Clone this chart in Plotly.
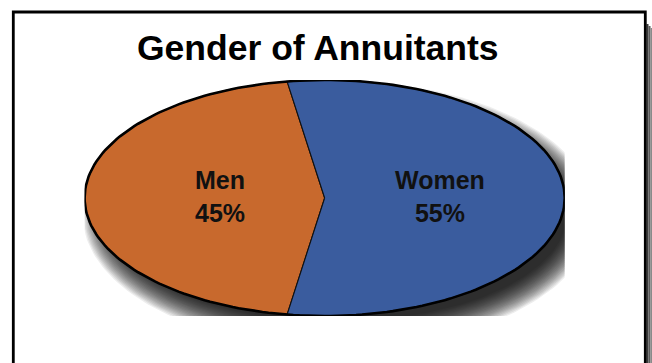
import numpy as np
import plotly.graph_objects as go

# Data
categories = ["Men", "Women"]
shares = [45, 55]
colors = ["#C8692D", "#3A5C9E"]
title_text = "Gender of Annuitants"

W, H = 652, 363
FONT = "Liberation Sans"

# Pixel box of the stretched pie (left, right, top, bottom)
PX_L, PX_R, PX_T, PX_B = 84.6, 564.7, 80.0, 316.0
ax_half_w = (PX_R - PX_L) / 2
ax_half_h = (PX_B - PX_T) / 2

fig = go.Figure()

# Soft drop shadow: stacked translucent ellipses, offset down-right
t = np.linspace(0, 2 * np.pi, 241)
shadow_dx, shadow_dy = 14.0, 17.0  # pixels
for r in np.linspace(16, -12, 22):
    sx = (ax_half_w + r) / ax_half_w
    sy = (ax_half_h + r) / ax_half_h
    fig.add_trace(go.Scatter(
        x=sx * np.cos(t) + shadow_dx / ax_half_w,
        y=sy * np.sin(t) - shadow_dy / ax_half_h,
        mode="lines", fill="toself",
        fillcolor="rgba(0,0,0,0.072)", line=dict(width=0),
        hoverinfo="skip", showlegend=False,
        xaxis="x2", yaxis="y2"))

# Pie slices: first slice centred on the left (180 deg), going counter-clockwise
total = float(sum(shares))
start = 180.0 - shares[0] / total * 180.0
for name, val, col in zip(categories, shares, colors):
    sweep = val / total * 360.0
    ang = np.radians(np.linspace(start, start + sweep, 200))
    xs = np.concatenate([[0.0], np.cos(ang), [0.0]])
    ys = np.concatenate([[0.0], np.sin(ang), [0.0]])
    fig.add_trace(go.Scatter(
        x=xs, y=ys, mode="lines", fill="toself", fillcolor=col,
        line=dict(color="#111111", width=1.1),
        name=name, hoverinfo="skip", showlegend=False,
        xaxis="x2", yaxis="y2"))
    # label in the middle of the slice
    mid = np.radians(start + sweep / 2)
    fig.add_annotation(
        x=0.46 * np.cos(mid) + 0.022, y=0.01, xref="x2", yref="y2",
        text=f"<b>{name}<br>{val}%</b>", showarrow=False,
        font=dict(family=FONT, size=25, color="#111111"),
        align="center", xanchor="center", yanchor="middle")
    start += sweep

# Outer outline of the pie
fig.add_trace(go.Scatter(
    x=np.cos(t), y=np.sin(t), mode="lines",
    line=dict(color="#000000", width=2.6),
    hoverinfo="skip", showlegend=False, xaxis="x2", yaxis="y2"))

# Title
fig.add_annotation(
    x=318 / W, y=1 - 47.5 / H, xref="paper", yref="paper",
    text=f"<b>{title_text}</b>", showarrow=False,
    font=dict(family=FONT, size=35.5, color="#000000"),
    xanchor="center", yanchor="middle")

# Frame with a shadow strip on its right side
shapes = [
    dict(type="rect", xref="paper", yref="paper",
         x0=646.5 / W, x1=648.5 / W, y0=0, y1=1 - 24 / H,
         fillcolor="#3a3a3a", line=dict(width=0)),
    dict(type="rect", xref="paper", yref="paper",
         x0=648.5 / W, x1=650.5 / W, y0=0, y1=1 - 26 / H,
         fillcolor="#5a5a5a", line=dict(width=0)),
    dict(type="rect", xref="paper", yref="paper",
         x0=650.5 / W, x1=1, y0=0, y1=1 - 28 / H,
         fillcolor="#8a8a8a", line=dict(width=0)),
    dict(type="rect", xref="paper", yref="paper",
         x0=13.3 / W, x1=645.3 / W, y0=-0.05, y1=1 - 12 / H,
         line=dict(color="#000000", width=2.8), fillcolor="rgba(0,0,0,0)"),
]

axis_off = dict(visible=False, showgrid=False, zeroline=False, fixedrange=True)
fig.update_layout(
    width=W, height=H,
    margin=dict(l=0, r=0, t=0, b=0),
    paper_bgcolor="#ffffff", plot_bgcolor="rgba(0,0,0,0)",
    showlegend=False,
    shapes=shapes,
    xaxis=dict(axis_off, domain=[0, 1]),
    yaxis=dict(axis_off, domain=[0, 1]),
    xaxis2=dict(axis_off, domain=[PX_L / W, PX_R / W], range=[-1, 1],
                anchor="y2"),
    yaxis2=dict(axis_off, domain=[1 - PX_B / H, 1 - PX_T / H], range=[-1, 1],
                anchor="x2"),
)

fig.write_html("out.html")
